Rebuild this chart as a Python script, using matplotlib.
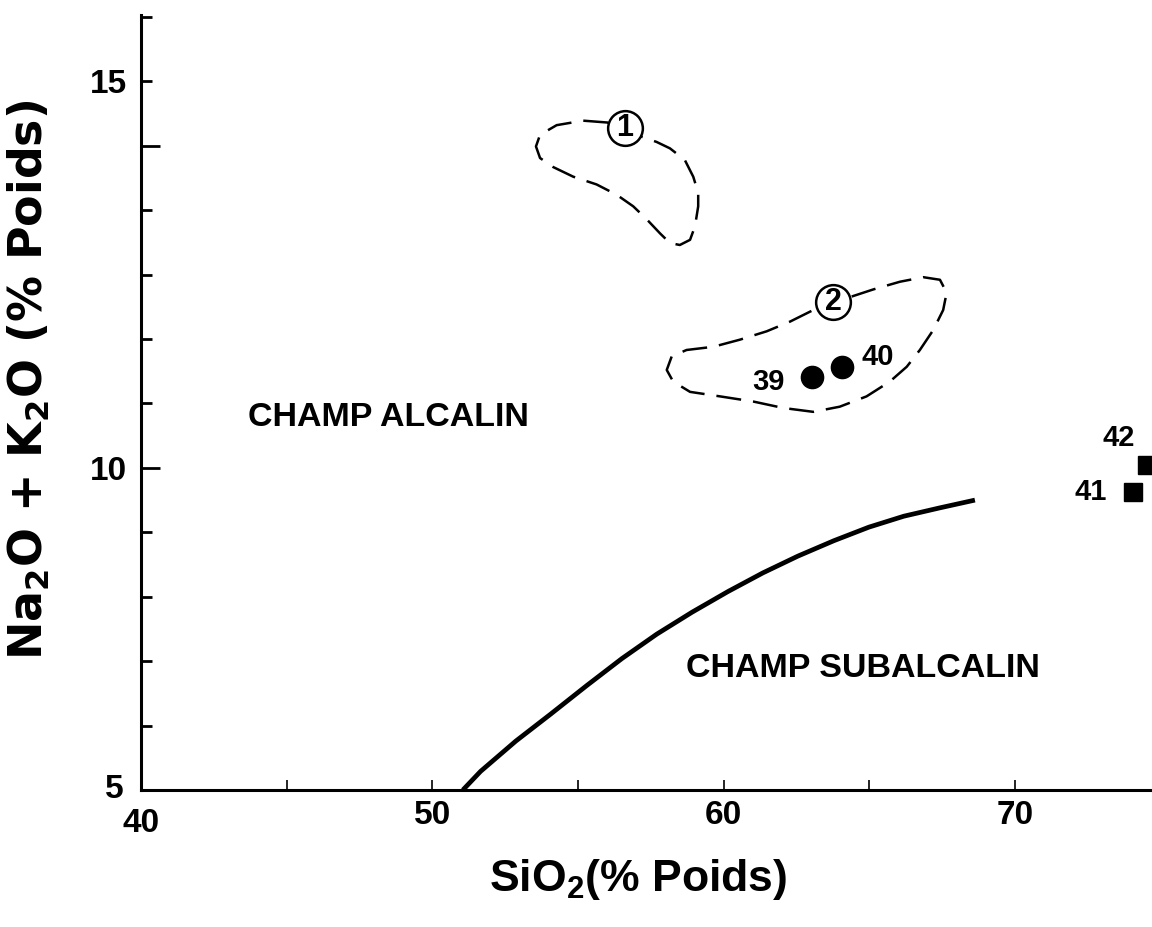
import matplotlib
matplotlib.use("Agg")
import matplotlib.pyplot as plt
from matplotlib.transforms import ScaledTranslation

plt.rcParams["font.family"] = ["Liberation Sans", "DejaVu Sans"]
plt.rcParams["font.weight"] = "bold"
plt.rcParams["mathtext.fontset"] = "custom"
plt.rcParams["mathtext.rm"] = "Liberation Sans:bold"
plt.rcParams["mathtext.it"] = "Liberation Sans:bold"
plt.rcParams["mathtext.bf"] = "Liberation Sans:bold"

# Alkaline / subalkaline dividing curve (SiO2, Na2O+K2O)
boundary_sio2 = [51.05, 51.66, 52.87, 54.07, 55.30, 56.51, 57.71, 58.92, 60.15,
                 61.35, 62.55, 63.79, 64.99, 66.19, 67.43, 68.63]
boundary_alk = [5.00, 5.29, 5.76, 6.18, 6.62, 7.04, 7.42, 7.76, 8.08,
                8.37, 8.63, 8.87, 9.08, 9.25, 9.38, 9.50]

# Field 1 outline
field1_sio2 = [56.04, 55.18, 54.27, 53.70, 53.56, 53.70, 54.15, 54.84, 55.64, 56.33,
               56.90, 57.36, 57.82, 58.16, 58.50, 58.85, 59.02, 59.13, 59.13, 58.96,
               58.67, 58.16, 57.70, 57.19]
field1_alk = [15.36, 15.39, 15.32, 15.17, 14.99, 14.81, 14.67, 14.52, 14.40, 14.24,
              14.06, 13.86, 13.64, 13.49, 13.46, 13.54, 13.75, 14.06, 14.27, 14.52,
              14.78, 14.96, 15.06, 15.14]
field1_tag = ("1", 56.61, 15.28)

# Field 2 outline
field2_sio2 = [64.40, 65.14, 66.06, 66.86, 67.43, 67.66, 67.54, 67.20, 66.74, 66.29,
               65.71, 64.91, 63.99, 63.08, 62.05, 61.02, 59.88, 58.85, 58.27, 58.05,
               58.22, 58.73, 59.65, 60.56, 61.48, 62.28, 63.08]
field2_alk = [12.66, 12.77, 12.89, 12.96, 12.92, 12.72, 12.45, 12.14, 11.83, 11.57,
              11.34, 11.11, 10.95, 10.87, 10.93, 11.03, 11.11, 11.18, 11.34, 11.52,
              11.73, 11.83, 11.88, 11.99, 12.12, 12.27, 12.45]
field2_tag = ("2", 63.77, 12.58)

# Samples
circle_ids = ["39", "40"]
circle_sio2 = [63.03, 64.06]
circle_alk = [11.41, 11.57]
circle_label_pos = [(61.55, 11.33), (65.30, 11.72)]

square_ids = ["41", "42"]
square_sio2 = [74.05, 74.53]
square_alk = [9.63, 10.05]
square_label_pos = [(72.62, 9.62), (73.55, 10.46)]

# Axis ticks
x_major = [40, 50, 60, 70]
x_major_labels = ["40", "50", "60", "70"]
x_minor = [45, 55, 65]
y_major = [5, 10, 15, 16]
y_major_labels = ["5", "10", "", "15"]
y_minor = [6, 7, 8, 9, 11, 12, 13, 14, 17]

fig = plt.figure(figsize=(11.52, 9.27), dpi=100)
ax = fig.add_axes([141 / 1152, 137 / 927, 1011 / 1152, 775 / 927])
ax.set_xlim(40, 74.71)
ax.set_ylim(5, 17.03)

for side in ("top", "right"):
    ax.spines[side].set_visible(False)
for side in ("left", "bottom"):
    ax.spines[side].set_linewidth(2.2)

ax.set_xticks(x_major)
ax.set_xticklabels(x_major_labels)
ax.set_xticks(x_minor, minor=True)
ax.set_yticks(y_major)
ax.set_yticklabels(y_major_labels)
ax.set_yticks(y_minor, minor=True)

ax.tick_params(axis="x", which="both", direction="in", length=7, width=1.2,
               labelsize=24, pad=7)
ax.tick_params(axis="y", which="both", direction="in", length=8, width=2.0,
               labelsize=24, pad=10)
ax.tick_params(axis="y", which="major", length=14)
# the tick carrying the upper label is drawn short
for tick, val in zip(ax.yaxis.get_major_ticks(), y_major):
    if val == 16:
        tick.tick1line.set_markersize(8)
for lab in ax.get_xticklabels() + ax.get_yticklabels():
    lab.set_fontweight("bold")

# shift the corner labels like the drawn axis
xl0 = ax.get_xticklabels()[0]
xl0.set_transform(xl0.get_transform() + ScaledTranslation(0, -8 / 100, fig.dpi_scale_trans))
yl0 = ax.get_yticklabels()[0]
yl0.set_transform(yl0.get_transform() + ScaledTranslation(-4 / 100, 4 / 100, fig.dpi_scale_trans))

# dividing curve
ax.plot(boundary_sio2, boundary_alk, color="black", lw=3.4, solid_capstyle="butt",
        solid_joinstyle="round")

# dashed fields
dash = (0, (10, 4.8))
for xs, ys, tag in ((field1_sio2, field1_alk, field1_tag),
                    (field2_sio2, field2_alk, field2_tag)):
    ax.plot(xs + xs[:1], ys + ys[:1], color="black", lw=1.8, linestyle=dash,
            dash_capstyle="butt")
    ax.plot([tag[1]], [tag[2]], marker="o", markersize=25, markerfacecolor="white",
            markeredgecolor="black", markeredgewidth=1.8, linestyle="none", zorder=4)
    ax.text(tag[1], tag[2], tag[0], fontsize=22, fontweight="bold",
            ha="center", va="center", zorder=5)

# sample points
ax.plot(circle_sio2, circle_alk, "o", color="black", markersize=16, zorder=6)
for name, (tx, ty) in zip(circle_ids, circle_label_pos):
    ax.text(tx, ty, name, fontsize=21, fontweight="bold", ha="center", va="center")

ax.plot(square_sio2, square_alk, "s", color="black", markersize=13, zorder=6)
for name, (tx, ty) in zip(square_ids, square_label_pos):
    ax.text(tx, ty, name, fontsize=21, fontweight="bold", ha="center", va="center")

# field names
ax.text(48.48, 10.78, "CHAMP ALCALIN", fontsize=24.5, fontweight="bold",
        ha="center", va="center")
ax.text(64.79, 6.89, "CHAMP SUBALCALIN", fontsize=24.5, fontweight="bold",
        ha="center", va="center")

# axis titles
fig.text(638 / 1152, 1 - 880 / 927, r"SiO$_{\mathbf{2}}$(% Poids)", fontsize=32,
         fontweight="bold", ha="center", va="center")
fig.text(29 / 1152, 1 - 380 / 927, r"Na$_{\mathbf{2}}$O + K$_{\mathbf{2}}$O (% Poids)",
         fontsize=33, fontweight="bold", ha="center", va="center", rotation=90,
         family=["DejaVu Sans"], math_fontfamily="dejavusans")

fig.savefig("out.png", dpi=100, facecolor="white")
